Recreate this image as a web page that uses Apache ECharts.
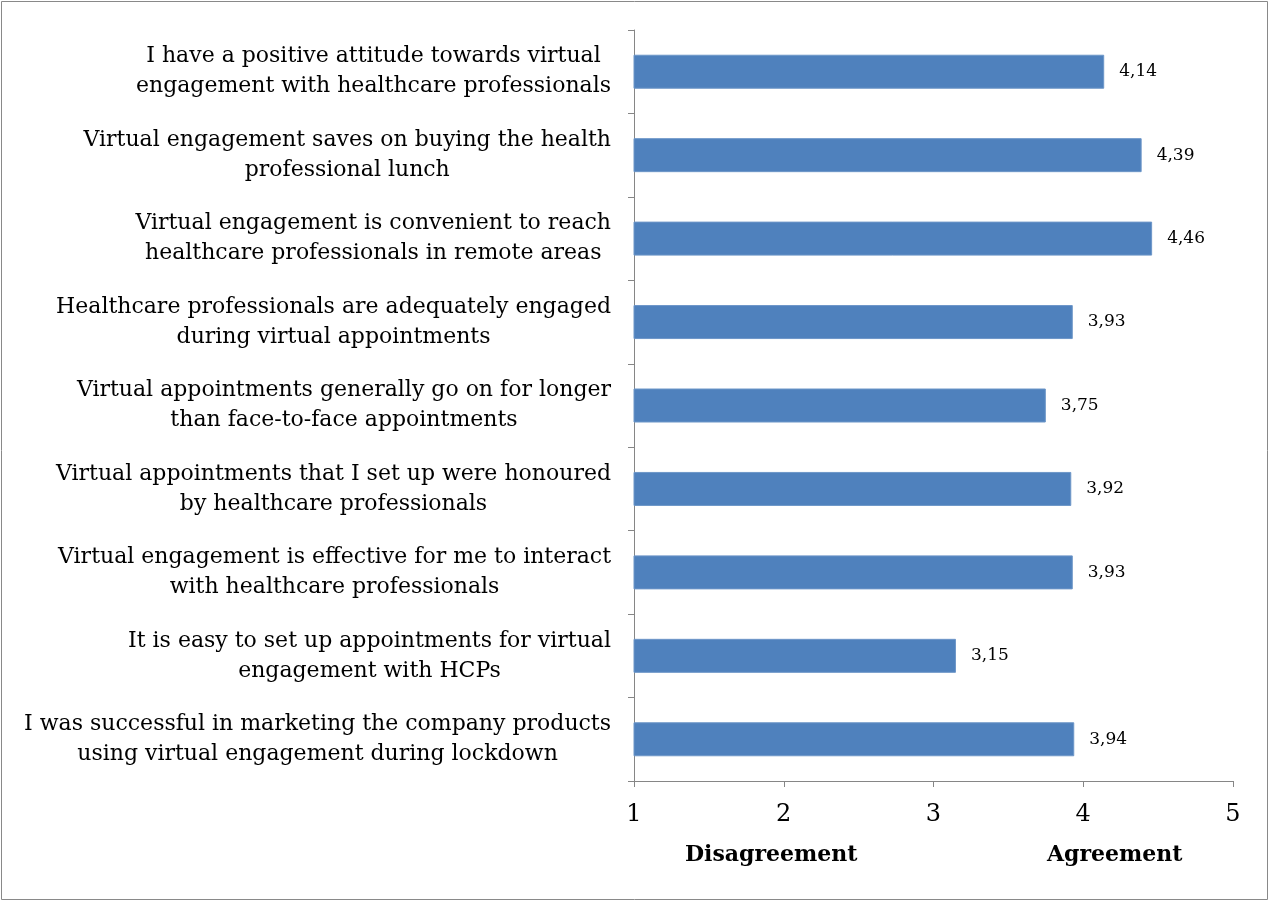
<!DOCTYPE html>
<html>
<head>
<meta charset="utf-8">
<script src="https://cdn.jsdelivr.net/npm/echarts@6/dist/echarts.min.js"></script>
<style>
  html, body { margin: 0; padding: 0; background: #fff; }
  #chart { width: 1270px; height: 902px; }
</style>
</head>
<body>
<div id="chart"></div>
<script>
// Survey statements (two lines each) and their mean scores on a 1–5 scale
const statements = [
  'I have a positive attitude towards virtual\nengagement with healthcare professionals',
  'Virtual engagement saves on buying the health\nprofessional lunch',
  'Virtual engagement is convenient to reach\nhealthcare professionals in remote areas',
  'Healthcare professionals are adequately engaged\nduring virtual appointments',
  'Virtual appointments generally go on for longer\nthan face-to-face appointments',
  'Virtual appointments that I set up were honoured\nby healthcare professionals',
  'Virtual engagement is effective for me to interact\nwith healthcare professionals',
  'It is easy to set up appointments for virtual\nengagement with HCPs',
  'I was successful in marketing the company products\nusing virtual engagement during lockdown'
];
const meanScores = [4.14, 4.39, 4.46, 3.93, 3.75, 3.92, 3.93, 3.15, 3.94];
const scaleTicks = [1, 2, 3, 4, 5];
const scaleEnds = ['Disagreement', 'Agreement'];

const serif = '"DejaVu Serif", "Liberation Serif", serif';
const axisGray = '#868686';

const chart = echarts.init(document.getElementById('chart'));
chart.setOption({
  animation: false,
  backgroundColor: '#fff',
  grid: { left: 634, right: 37, top: 30, bottom: 121, containLabel: false },
  xAxis: {
    type: 'value',
    min: scaleTicks[0],
    max: scaleTicks[scaleTicks.length - 1],
    interval: 1,
    splitLine: { show: false },
    axisLine: { show: true, lineStyle: { color: axisGray, width: 1 } },
    axisTick: { show: true, length: 6, lineStyle: { color: axisGray } },
    axisLabel: { color: '#000', fontFamily: serif, fontSize: 24, margin: 22 }
  },
  yAxis: {
    type: 'category',
    inverse: true,
    data: statements,
    axisLine: { show: true, lineStyle: { color: axisGray, width: 1 } },
    axisTick: { show: true, length: 6, lineStyle: { color: axisGray } },
    axisLabel: {
      color: '#000',
      fontFamily: serif,
      fontSize: 22,
      lineHeight: 30,
      margin: 23,
      align: 'right',
      formatter: (v) => v.split('\n').map(l => '{c|' + l + '}').join('\n'),
      rich: { c: { align: 'center', fontFamily: serif, fontSize: 22, lineHeight: 30, color: '#000' } }
    }
  },
  series: [{
    type: 'bar',
    data: meanScores,
    barWidth: 34,
    itemStyle: { color: '#4F81BD', borderColor: '#6d96c8', borderWidth: 1 },
    label: {
      show: true,
      position: 'right',
      distance: 15,
      color: '#000',
      fontFamily: serif,
      fontSize: 17,
      formatter: (p) => p.value.toFixed(2).replace('.', ',')
    }
  }],
  title: [
    { text: scaleEnds[0], left: 680, top: 839,
      textStyle: { fontFamily: serif, fontWeight: 'bold', fontSize: 22, color: '#000' } },
    { text: scaleEnds[1], left: 1042, top: 839,
      textStyle: { fontFamily: serif, fontWeight: 'bold', fontSize: 22, color: '#000' } }
  ],
  graphic: [{
    type: 'rect',
    silent: true,
    shape: { x: 1.5, y: 1.5, width: 1266, height: 898 },
    style: { fill: null, stroke: '#898989', lineWidth: 1 }
  }]
});
</script>
</body>
</html>
